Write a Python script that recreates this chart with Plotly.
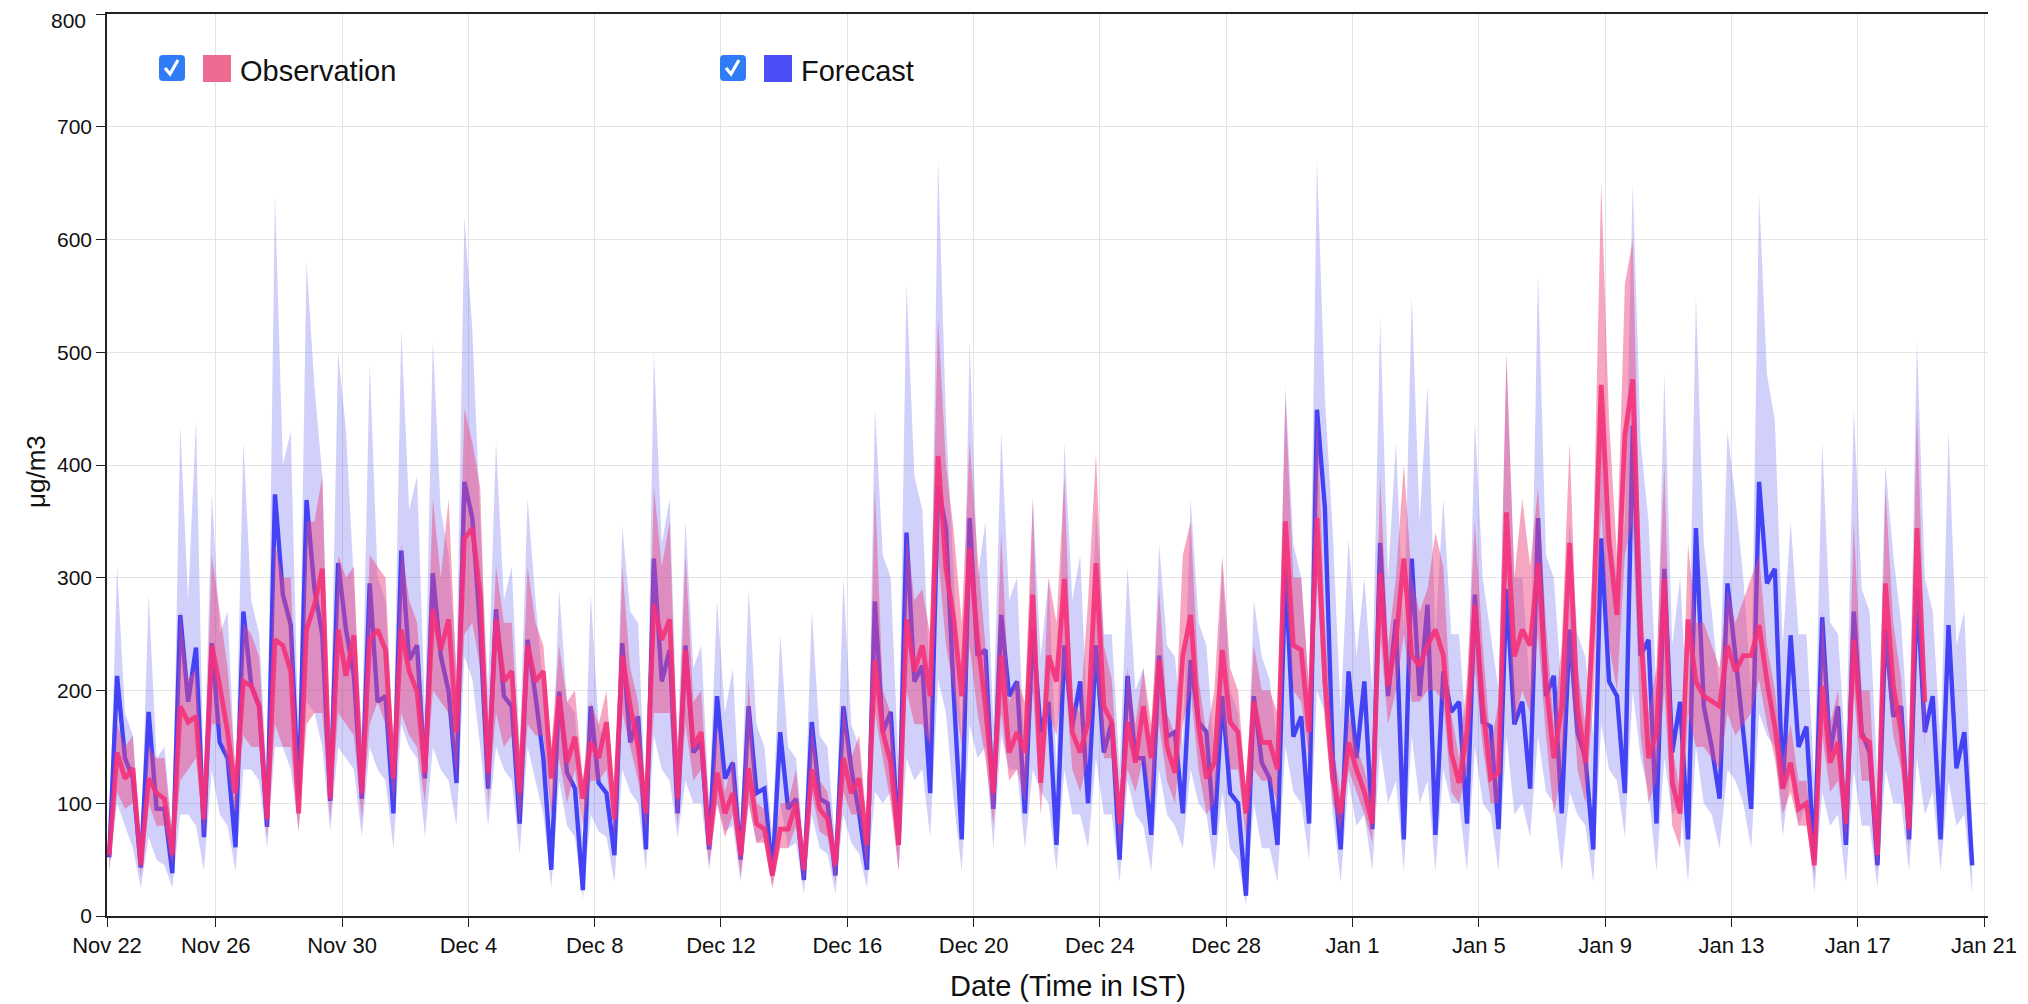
import pandas as pd
import plotly.graph_objects as go

# ---------------- data (6-hourly: 03, 09, 15, 21 h IST) -------------
series_start = "2023-11-22 15:00"

fc_line = [
    52, 213,              # Nov 22 (15h, 21h)
    140, 122, 43, 181,    # Nov 23
    95, 95, 38, 267,      # Nov 24
    190, 238, 70, 242,    # Nov 25
    154, 140, 61, 270,    # Nov 26
    204, 186, 79, 374,    # Nov 27
    285, 258, 104, 369,   # Nov 28
    290, 249, 102, 313,   # Nov 29
    254, 213, 104, 295,   # Nov 30
    190, 195, 91, 324,    # Dec 1
    227, 240, 122, 304,   # Dec 2
    231, 199, 118, 385,   # Dec 3
    353, 254, 113, 272,   # Dec 4
    195, 186, 82, 245,    # Dec 5
    195, 140, 41, 199,    # Dec 6
    127, 113, 23, 186,    # Dec 7
    118, 109, 54, 242,    # Dec 8
    154, 177, 59, 317,    # Dec 9
    208, 236, 91, 240,    # Dec 10
    145, 154, 59, 195,    # Dec 11
    122, 136, 50, 186,    # Dec 12
    109, 113, 36, 163,    # Dec 13
    95, 104, 32, 172,     # Dec 14
    104, 100, 36, 186,    # Dec 15
    131, 91, 41, 279,     # Dec 16
    163, 181, 63, 340,    # Dec 17
    208, 222, 109, 381,   # Dec 18
    344, 195, 68, 353,    # Dec 19
    231, 236, 95, 267,    # Dec 20
    195, 208, 91, 254,    # Dec 21
    163, 190, 63, 240,    # Dec 22
    168, 208, 100, 240,   # Dec 23
    145, 172, 50, 213,    # Dec 24
    140, 140, 72, 231,    # Dec 25
    159, 163, 91, 227,    # Dec 26
    172, 163, 72, 195,    # Dec 27
    109, 100, 18, 195,    # Dec 28
    136, 122, 63, 308,    # Dec 29
    159, 177, 82, 449,    # Dec 30
    362, 140, 59, 217,    # Dec 31
    140, 208, 77, 331,    # Jan 1
    195, 263, 68, 317,    # Jan 2
    195, 276, 72, 217,    # Jan 3
    181, 190, 82, 285,    # Jan 4
    172, 168, 77, 290,    # Jan 5
    170, 190, 113, 353,   # Jan 6
    195, 213, 91, 254,    # Jan 7
    163, 140, 59, 335,    # Jan 8
    208, 195, 109, 435,   # Jan 9
    231, 245, 82, 308,    # Jan 10
    145, 190, 68, 344,    # Jan 11
    186, 150, 104, 295,   # Jan 12
    231, 163, 95, 385,    # Jan 13
    295, 308, 113, 249,   # Jan 14
    150, 168, 50, 265,    # Jan 15
    145, 186, 63, 270,    # Jan 16
    163, 145, 45, 254,    # Jan 17
    177, 186, 68, 290,    # Jan 18
    163, 195, 68, 258,    # Jan 19
    131, 163, 45,         # Jan 20 (03h, 09h, 15h)
]

fc_hi = [
    70, 310,
    180, 160, 60, 285,
    140, 150, 70, 435,
    280, 440, 110, 375,
    250, 270, 120, 420,
    280, 250, 120, 640,
    400, 430, 150, 580,
    470, 390, 150, 500,
    430, 300, 160, 490,
    300, 280, 150, 520,
    360, 390, 180, 510,
    360, 320, 220, 620,
    520, 350, 200, 420,
    280, 310, 150, 370,
    280, 200, 100, 290,
    190, 180, 70, 285,
    170, 150, 80, 345,
    270, 260, 90, 500,
    330, 370, 150, 350,
    220, 240, 100, 280,
    180, 220, 80, 290,
    170, 150, 70, 250,
    150, 140, 60, 270,
    160, 150, 60, 300,
    170, 150, 70, 450,
    320, 300, 130, 560,
    390, 360, 200, 670,
    440, 300, 150, 510,
    300, 350, 170, 430,
    280, 300, 130, 370,
    230, 300, 130, 420,
    280, 320, 160, 360,
    250, 250, 130, 310,
    200, 220, 140, 330,
    240, 230, 150, 370,
    260, 240, 140, 310,
    200, 180, 80, 280,
    230, 210, 150, 470,
    330, 300, 200, 670,
    460, 340, 180, 335,
    230, 300, 200, 530,
    300, 420, 250, 550,
    350, 470, 250, 370,
    250, 250, 150, 440,
    300, 250, 200, 490,
    300, 300, 200, 570,
    320, 300, 200, 350,
    250, 230, 160, 450,
    350, 300, 350, 650,
    420, 350, 200, 480,
    240, 300, 170, 550,
    330, 270, 200, 430,
    370, 300, 200, 640,
    480, 440, 240, 350,
    250, 250, 120, 420,
    260, 250, 140, 450,
    290, 270, 120, 400,
    320, 260, 150, 510,
    300, 270, 150, 430,
    240, 270, 80,
]

fc_lo = [
    40, 100,
    80, 60, 25, 70,
    50, 45, 25, 90,
    90, 80, 40, 130,
    90, 80, 40, 130,
    130, 120, 60, 150,
    150, 130, 75, 190,
    180, 150, 75, 150,
    140, 130, 70, 150,
    130, 120, 60, 170,
    150, 140, 70, 150,
    130, 120, 80, 230,
    210, 150, 80, 150,
    130, 120, 55, 150,
    120, 90, 25, 120,
    80, 70, 15, 90,
    75, 70, 30, 130,
    110, 100, 40, 160,
    130, 120, 70, 120,
    100, 100, 40, 100,
    75, 80, 30, 100,
    65, 70, 25, 100,
    60, 65, 20, 90,
    60, 55, 20, 90,
    65, 55, 25, 110,
    100, 110, 40, 140,
    120, 130, 70, 210,
    180, 100, 40, 170,
    140, 150, 60, 160,
    130, 130, 60, 130,
    110, 100, 40, 130,
    90, 90, 60, 140,
    90, 90, 30, 120,
    90, 80, 40, 130,
    90, 80, 60, 130,
    100, 90, 40, 110,
    60, 50, 10, 100,
    60, 60, 30, 150,
    110, 100, 50, 200,
    180, 90, 30, 120,
    80, 90, 40, 150,
    100, 120, 40, 160,
    100, 120, 40, 130,
    100, 100, 40, 150,
    100, 90, 40, 160,
    90, 100, 70, 160,
    110, 100, 40, 110,
    90, 80, 30, 170,
    130, 120, 70, 200,
    140, 110, 40, 140,
    90, 100, 30, 150,
    100, 90, 60, 130,
    120, 100, 60, 180,
    160, 150, 70, 130,
    80, 100, 20, 110,
    80, 90, 30, 130,
    80, 80, 25, 130,
    100, 100, 40, 140,
    90, 110, 40, 120,
    80, 90, 20,
]

obs_line = [
    54, 145,              # Nov 22
    122, 131, 45, 122,    # Nov 23
    109, 104, 54, 186,    # Nov 24
    172, 177, 86, 240,    # Nov 25
    204, 163, 109, 208,   # Nov 26
    204, 186, 86, 245,    # Nov 27
    240, 217, 91, 254,    # Nov 28
    276, 308, 104, 254,   # Nov 29
    213, 249, 109, 245,   # Nov 30
    254, 236, 122, 254,   # Dec 1
    217, 199, 127, 272,   # Dec 2
    236, 263, 163, 335,   # Dec 3
    344, 285, 127, 263,   # Dec 4
    208, 217, 109, 240,   # Dec 5
    208, 217, 122, 195,   # Dec 6
    136, 159, 104, 154,   # Dec 7
    140, 172, 86, 231,    # Dec 8
    186, 150, 91, 276,    # Dec 9
    245, 263, 104, 236,   # Dec 10
    150, 163, 63, 127,    # Dec 11
    91, 109, 54, 131,     # Dec 12
    82, 77, 36, 77,       # Dec 13
    77, 100, 41, 130,     # Dec 14
    95, 86, 45, 140,      # Dec 15
    109, 122, 63, 227,    # Dec 16
    163, 136, 63, 263,    # Dec 17
    217, 240, 195, 408,   # Dec 18
    308, 263, 195, 326,   # Dec 19
    245, 186, 109, 231,   # Dec 20
    145, 163, 145, 285,   # Dec 21
    118, 231, 208, 299,   # Dec 22
    163, 145, 172, 313,   # Dec 23
    186, 172, 82, 172,    # Dec 24
    136, 186, 140, 227,   # Dec 25
    150, 127, 231, 267,   # Dec 26
    168, 122, 136, 236,   # Dec 27
    172, 163, 91, 190,    # Dec 28
    154, 154, 130, 350,   # Dec 29
    240, 236, 163, 353,   # Dec 30
    208, 122, 91, 154,    # Dec 31
    130, 110, 82, 304,    # Jan 1
    204, 245, 317, 231,   # Jan 2
    222, 240, 254, 231,   # Jan 3
    145, 118, 163, 276,   # Jan 4
    186, 122, 127, 358,   # Jan 5
    230, 254, 240, 313,   # Jan 6
    208, 140, 186, 331,   # Jan 7
    186, 136, 263, 471,   # Jan 8
    331, 267, 426, 476,   # Jan 9
    254, 140, 163, 299,   # Jan 10
    118, 91, 263, 208,    # Jan 11
    195, 190, 186, 240,   # Jan 12
    217, 231, 231, 258,   # Jan 13
    208, 168, 113, 136,   # Jan 14
    95, 100, 45, 204,     # Jan 15
    136, 154, 82, 245,    # Jan 16
    159, 154, 54, 295,    # Jan 17
    204, 163, 77, 344,    # Jan 18
    190,                  # Jan 19 (03h)
]

obs_lo = [
    40, 110,
    95, 100, 35, 100,
    80, 80, 45, 120,
    130, 140, 70, 170,
    170, 130, 90, 160,
    150, 150, 70, 170,
    150, 150, 75, 170,
    180, 180, 85, 180,
    170, 160, 85, 170,
    190, 170, 100, 180,
    160, 150, 100, 200,
    190, 180, 120, 250,
    260, 220, 100, 180,
    150, 160, 80, 170,
    160, 160, 90, 140,
    100, 130, 80, 120,
    120, 130, 70, 180,
    150, 120, 75, 180,
    180, 180, 80, 170,
    120, 130, 45, 100,
    70, 90, 35, 100,
    65, 65, 25, 60,
    60, 80, 30, 110,
    75, 70, 30, 110,
    90, 90, 40, 180,
    140, 100, 40, 200,
    170, 170, 150, 320,
    240, 200, 150, 240,
    180, 140, 80, 180,
    120, 130, 100, 200,
    90, 180, 160, 220,
    130, 110, 140, 220,
    140, 140, 60, 130,
    110, 140, 100, 170,
    120, 100, 170, 200,
    130, 90, 100, 180,
    130, 130, 70, 130,
    120, 120, 100, 290,
    200, 190, 140, 300,
    170, 100, 75, 130,
    110, 90, 65, 250,
    170, 200, 250, 190,
    190, 200, 200, 190,
    110, 100, 130, 220,
    150, 100, 100, 300,
    170, 200, 180, 250,
    160, 90, 130, 230,
    130, 100, 190, 360,
    240, 200, 320, 350,
    160, 100, 120, 200,
    80, 60, 180, 150,
    150, 140, 130, 180,
    160, 170, 180, 210,
    170, 140, 90, 110,
    80, 80, 35, 160,
    110, 120, 65, 200,
    120, 120, 40, 230,
    160, 130, 60, 270,
    150,
]

obs_hi = [
    60, 170,
    150, 160, 55, 150,
    140, 140, 70, 270,
    210, 220, 110, 320,
    270, 220, 130, 260,
    250, 230, 110, 330,
    300, 300, 110, 350,
    350, 390, 120, 320,
    300, 310, 130, 320,
    310, 300, 150, 330,
    280, 260, 160, 370,
    300, 370, 210, 450,
    420, 380, 150, 310,
    260, 260, 130, 310,
    260, 240, 150, 240,
    190, 200, 120, 190,
    170, 200, 100, 310,
    220, 190, 110, 380,
    310, 350, 130, 320,
    190, 200, 80, 170,
    110, 140, 70, 210,
    100, 95, 50, 100,
    100, 130, 55, 170,
    120, 110, 60, 190,
    140, 160, 80, 380,
    200, 180, 90, 340,
    280, 290, 250, 530,
    400, 340, 260, 420,
    320, 240, 140, 340,
    190, 210, 190, 370,
    140, 300, 260, 390,
    190, 180, 280, 410,
    240, 210, 100, 220,
    170, 220, 170, 290,
    180, 160, 320, 350,
    210, 160, 200, 320,
    220, 200, 110, 240,
    200, 200, 180, 460,
    300, 300, 200, 450,
    260, 150, 110, 180,
    150, 130, 100, 390,
    240, 300, 400, 300,
    270, 290, 340, 310,
    180, 140, 210, 350,
    240, 150, 190, 500,
    300, 370, 310, 380,
    260, 170, 240, 420,
    220, 170, 330, 650,
    440, 320, 560, 600,
    300, 180, 220, 400,
    150, 110, 330, 260,
    260, 240, 220, 290,
    260, 280, 300, 320,
    240, 200, 140, 170,
    120, 120, 60, 270,
    170, 200, 100, 350,
    200, 200, 70, 380,
    260, 210, 100, 450,
    230,
]

tick_labels = ["Nov 22", "Nov 26", "Nov 30", "Dec 4", "Dec 8", "Dec 12", "Dec 16", "Dec 20",
               "Dec 24", "Dec 28", "Jan 1", "Jan 5", "Jan 9", "Jan 13", "Jan 17", "Jan 21"]
y_ticks = [0, 100, 200, 300, 400, 500, 600, 700, 800]
y_tick_labels = [str(v) for v in y_ticks]

# ---------------- layout geometry ----------------
# The page body keeps its default 8px margin, so the figure is offset by 8px.
OFF = 8
W, H = 2028 - OFF, 1004 - OFF
L, T = 107 - OFF, 14 - OFF
PW, PH = 1881, 902
R, B = W - L - PW, H - T - PH
x_start = pd.Timestamp("2023-11-22 13:20")
x_end = pd.Timestamp("2024-01-21 03:00")

times = pd.date_range(series_start, periods=len(fc_line), freq="6h")
t_fc = list(times)
t_obs = list(times[:len(obs_line)])

tick_vals = [x_start] + list(pd.date_range("2023-11-26", periods=len(tick_labels) - 1, freq="4D"))

FONT = "Liberation Sans, Arial, Helvetica, sans-serif"


def band(t, lo, hi, color):
    return go.Scatter(x=t + t[::-1], y=hi + lo[::-1], fill="toself", mode="lines",
                      line=dict(width=0), fillcolor=color, hoverinfo="skip", showlegend=False)


fig = go.Figure()
fig.add_trace(band(t_fc, fc_lo, fc_hi, "rgba(80,80,240,0.27)"))
fig.add_trace(go.Scatter(x=t_fc, y=fc_line, mode="lines", name="Forecast",
                         line=dict(color="#4343f5", width=4.4), showlegend=False))
fig.add_trace(band(t_obs, obs_lo, obs_hi, "rgba(236,70,125,0.48)"))
fig.add_trace(go.Scatter(x=t_obs, y=obs_line, mode="lines", name="Observation",
                         line=dict(color="rgba(244,50,122,0.9)", width=4.8), showlegend=False))


def px(x, y):
    """page pixel -> paper coordinates"""
    return (x - OFF - L) / PW, (T + PH - (y - OFF)) / PH


def rrect(x0, y0, x1, y1, r, color):
    pts = []
    a = px(x0 + r, y0); pts.append("M %f %f" % a)
    b = px(x1 - r, y0); pts.append("L %f %f" % b)
    c = px(x1, y0); d = px(x1, y0 + r); pts.append("Q %f %f %f %f" % (c + d))
    e = px(x1, y1 - r); pts.append("L %f %f" % e)
    f = px(x1, y1); g = px(x1 - r, y1); pts.append("Q %f %f %f %f" % (f + g))
    h = px(x0 + r, y1); pts.append("L %f %f" % h)
    i = px(x0, y1); j = px(x0, y1 - r); pts.append("Q %f %f %f %f" % (i + j))
    k = px(x0, y0 + r); pts.append("L %f %f" % k)
    m = px(x0, y0); pts.append("Q %f %f %f %f Z" % (m + a))
    return dict(type="path", xref="paper", yref="paper", path=" ".join(pts),
                fillcolor=color, line=dict(width=0), layer="above")


def check(x0, y0):
    p1 = px(x0 + 6, y0 + 13); p2 = px(x0 + 11, y0 + 19); p3 = px(x0 + 19, y0 + 5)
    return dict(type="path", xref="paper", yref="paper",
                path="M %f %f L %f %f L %f %f" % (p1 + p2 + p3),
                line=dict(color="white", width=3.2), layer="above")


shapes = []
annotations = []
legend_items = [("Observation", 159, 203, 238, "#ec6b90"), ("Forecast", 720, 764, 799, "#4b4ef5")]
for name, cbx, swx, tx, col in legend_items:
    shapes.append(rrect(cbx, 55, cbx + 26, 81, 4, "#2f7cf6"))
    shapes.append(check(cbx, 55))
    x0, y0 = px(swx, 55)
    x1, y1 = px(swx + 28, 82)
    shapes.append(dict(type="rect", xref="paper", yref="paper", x0=x0, y0=y0, x1=x1, y1=y1,
                       fillcolor=col, line=dict(width=0), layer="above"))
    ax, ay = px(tx, 71)
    annotations.append(dict(xref="paper", yref="paper", x=ax, y=ay, xanchor="left", yanchor="middle",
                            text=name, showarrow=False, font=dict(family=FONT, size=29, color="#111")))

ax, ay = px(1068, 986)
annotations.append(dict(xref="paper", yref="paper", x=ax, y=ay, xanchor="center", yanchor="middle",
                        text="Date (Time in IST)", showarrow=False,
                        font=dict(family=FONT, size=29, color="#111")))
ax, ay = px(36, 472)
annotations.append(dict(xref="paper", yref="paper", x=ax, y=ay, xanchor="center", yanchor="middle",
                        text="μg/m3", textangle=-90, showarrow=False,
                        font=dict(family=FONT, size=26, color="#111")))

# the topmost y label would be clipped by the page edge: draw it as an annotation a bit lower
ax, ay = px(88, 20)
annotations.append(dict(xref="paper", yref="paper", x=ax, y=ay, xanchor="right", yanchor="middle",
                        text=y_tick_labels[-1], showarrow=False, height=18,
                        font=dict(family=FONT, size=21, color="#111")))
y_tick_text = y_tick_labels[:-1] + [""]

fig.update_layout(
    width=W, height=H,
    margin=dict(l=L, r=R, t=T, b=B, pad=0),
    paper_bgcolor="white", plot_bgcolor="white",
    showlegend=False,
    shapes=shapes, annotations=annotations,
    font=dict(family=FONT, color="#111"),
    xaxis=dict(type="date", range=[x_start, x_end], tickmode="array", tickvals=tick_vals,
               ticktext=tick_labels, showgrid=True, gridcolor="#e4e4e4", gridwidth=1,
               showline=True, linecolor="#222", linewidth=1.6, mirror=True, automargin=False,
               ticks="outside", ticklen=9, tickwidth=1.4, tickcolor="#222",
               ticklabeloverflow="allow",
               tickfont=dict(family=FONT, size=22, color="#111"), zeroline=False),
    yaxis=dict(range=[0, 800], tickmode="array", tickvals=y_ticks, ticktext=y_tick_text,
               showgrid=True, automargin=False,
               gridcolor="#e4e4e4", gridwidth=1, showline=True, linecolor="#222", linewidth=1.6,
               ticks="outside", ticklen=9, tickwidth=1.4, tickcolor="#222",
               ticklabeloverflow="allow",
               tickfont=dict(family=FONT, size=21, color="#111"), zeroline=False),
)

fig.write_html("out.html")
